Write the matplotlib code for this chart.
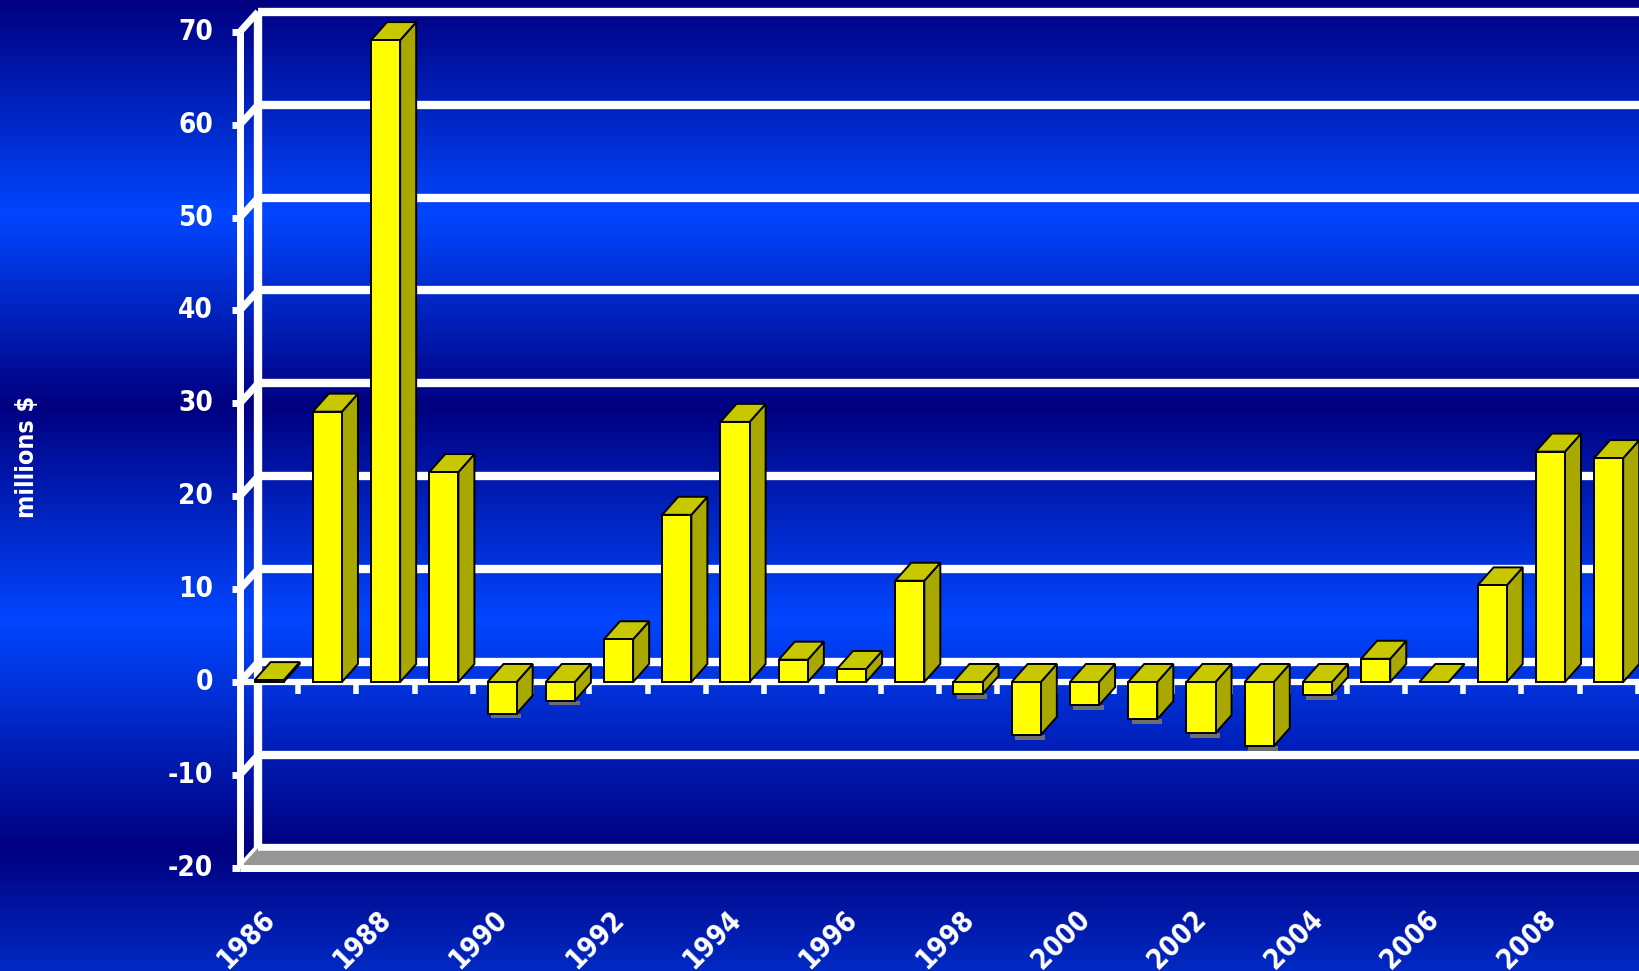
import matplotlib
matplotlib.use("Agg")
import matplotlib.pyplot as plt
import numpy as np
from matplotlib import font_manager
from matplotlib.patches import Polygon

# --- data ---
years = list(range(1986, 2010))
values = [0.2, 29.1, 69.1, 22.6, -3.4, -2.0, 4.6, 18.0, 28.0, 2.4, 1.4, 10.9,
          -1.3, -5.7, -2.5, -4.0, -5.5, -6.9, -1.4, 2.5, 0.0, 10.4, 24.8, 24.1]
y_ticks = [-20, -10, 0, 10, 20, 30, 40, 50, 60, 70]
x_labels = [str(y) for y in years[::2]]
y_label = "millions $"

# --- 3D look (in data units) ---
DX, DY = 0.31, 2.15        # wall depth offset
BDX, BDY = 0.275, 1.94     # bar depth offset
BW = 0.5                   # bar front width

# pick a narrow heavy face if one is installed, else plain bold
fonts = font_manager.fontManager.ttflist
names = {f.name for f in fonts}
if "Liberation Sans Narrow" in names:
    FONT = dict(family=["Liberation Sans Narrow", "DejaVu Sans"], fontweight="bold")
    FS = 22
elif any(f.name == "DejaVu Sans" and f.stretch == "condensed" for f in fonts):
    FONT = dict(family=["DejaVu Sans"], fontweight="bold", fontstretch="condensed")
    FS = 20
elif "Roboto Condensed" in names:
    FONT = dict(family=["Roboto Condensed", "DejaVu Sans"], fontweight="bold")
    FS = 21
else:
    FONT = dict(family=["DejaVu Sans"], fontweight="bold")
    FS = 17

W, H = 1640, 971
fig = plt.figure(figsize=(W / 100, H / 100), dpi=100)
ax = fig.add_axes([0, 0, 1, 1])
px_x, px_y, x0px, y0px = 58.24, 9.289, 240, 682
xlim = (-x0px / px_x, (W - x0px) / px_x)
ylim = ((y0px - H) / px_y, y0px / px_y)
ax.set_xlim(*xlim)
ax.set_ylim(*ylim)
ax.axis("off")

# vertical blue gradient background
stops_y = [0, 215, 405, 620, 847, 971]
stops_c = [(0, 0, 128), (0, 70, 255), (0, 0, 128), (0, 70, 255), (0, 0, 128), (0, 42, 196)]
rows = np.arange(H)
grad = np.stack([np.interp(rows, stops_y, [c[k] for c in stops_c]) for k in range(3)], axis=1) / 255
ax.imshow(grad[:, None, :], extent=(*xlim, *ylim), aspect="auto", zorder=0, origin="upper")

n = len(years)
xr = xlim[1] + 1
white = dict(color="white", solid_capstyle="butt", zorder=2)

# back wall gridlines and side wall connectors
for t in y_ticks:
    ax.plot([DX, xr], [t + DY, t + DY], lw=6, **white)
    ax.plot([0, DX], [t, t + DY], lw=5, **white)
    ax.plot([-0.14, 0], [t, t], lw=5, **white)
    ax.text(-0.46, t, str(t), color="white", ha="right", va="center",
            fontsize=FS, zorder=5, **FONT)
ax.plot([DX, DX], [-20 + DY, 70 + DY], lw=6, **white)

# floor
ax.add_patch(Polygon([(0, -20), (xr, -20), (xr + DX, -20 + DY), (DX, -20 + DY)],
                     closed=True, facecolor="#969696", edgecolor="none", zorder=2))
ax.plot([0, xr], [-20, -20], lw=5, **white)
ax.plot([DX, xr], [-20 + DY, -20 + DY], lw=4, **white)

# front value axis
ax.plot([0, 0], [-20, 70], lw=5, **white)

# category axis at zero with ticks
ax.plot([0, xr], [0, 0], lw=4.5, **white)
for k in range(1, n + 1):
    ax.plot([k, k], [0, -1.3], lw=4, **white)

# bars
for i, v in enumerate(values):
    xc = i + 0.5
    a, b = xc - BW / 2, xc + BW / 2
    lo, hi = min(0, v), max(0, v)
    if v < 0:
        ax.add_patch(Polygon([(a + 0.06, lo - 0.5), (b + 0.08, lo - 0.5), (b + 0.08, lo), (a + 0.06, lo)],
                             closed=True, facecolor="#6e6e6e", edgecolor="none", zorder=3))
    ek = dict(closed=True, edgecolor="black", linewidth=1.4, zorder=4, joinstyle="miter")
    ax.add_patch(Polygon([(b, lo), (b + BDX, lo + BDY), (b + BDX, hi + BDY), (b, hi)],
                         facecolor="#a8a800", **ek))
    ax.add_patch(Polygon([(a, hi), (b, hi), (b + BDX, hi + BDY), (a + BDX, hi + BDY)],
                         facecolor="#c8c800", **ek))
    if hi - lo > 0.05:
        ax.add_patch(Polygon([(a, lo), (b, lo), (b, hi), (a, hi)],
                             facecolor="#ffff00", **ek))

# category labels (every other year)
for i, lab in enumerate(x_labels):
    ax.text(2 * i + 0.5 - 0.15, -24.0, lab, color="white", rotation=45,
            rotation_mode="anchor", ha="right", va="top",
            fontsize=FS, zorder=5, **FONT)

ax.text(-3.66, 24.2, y_label, color="white", rotation=90, ha="center", va="center",
        fontsize=FS - 2, zorder=5, **FONT)

fig.savefig("out.png", dpi=100)
plt.close(fig)
